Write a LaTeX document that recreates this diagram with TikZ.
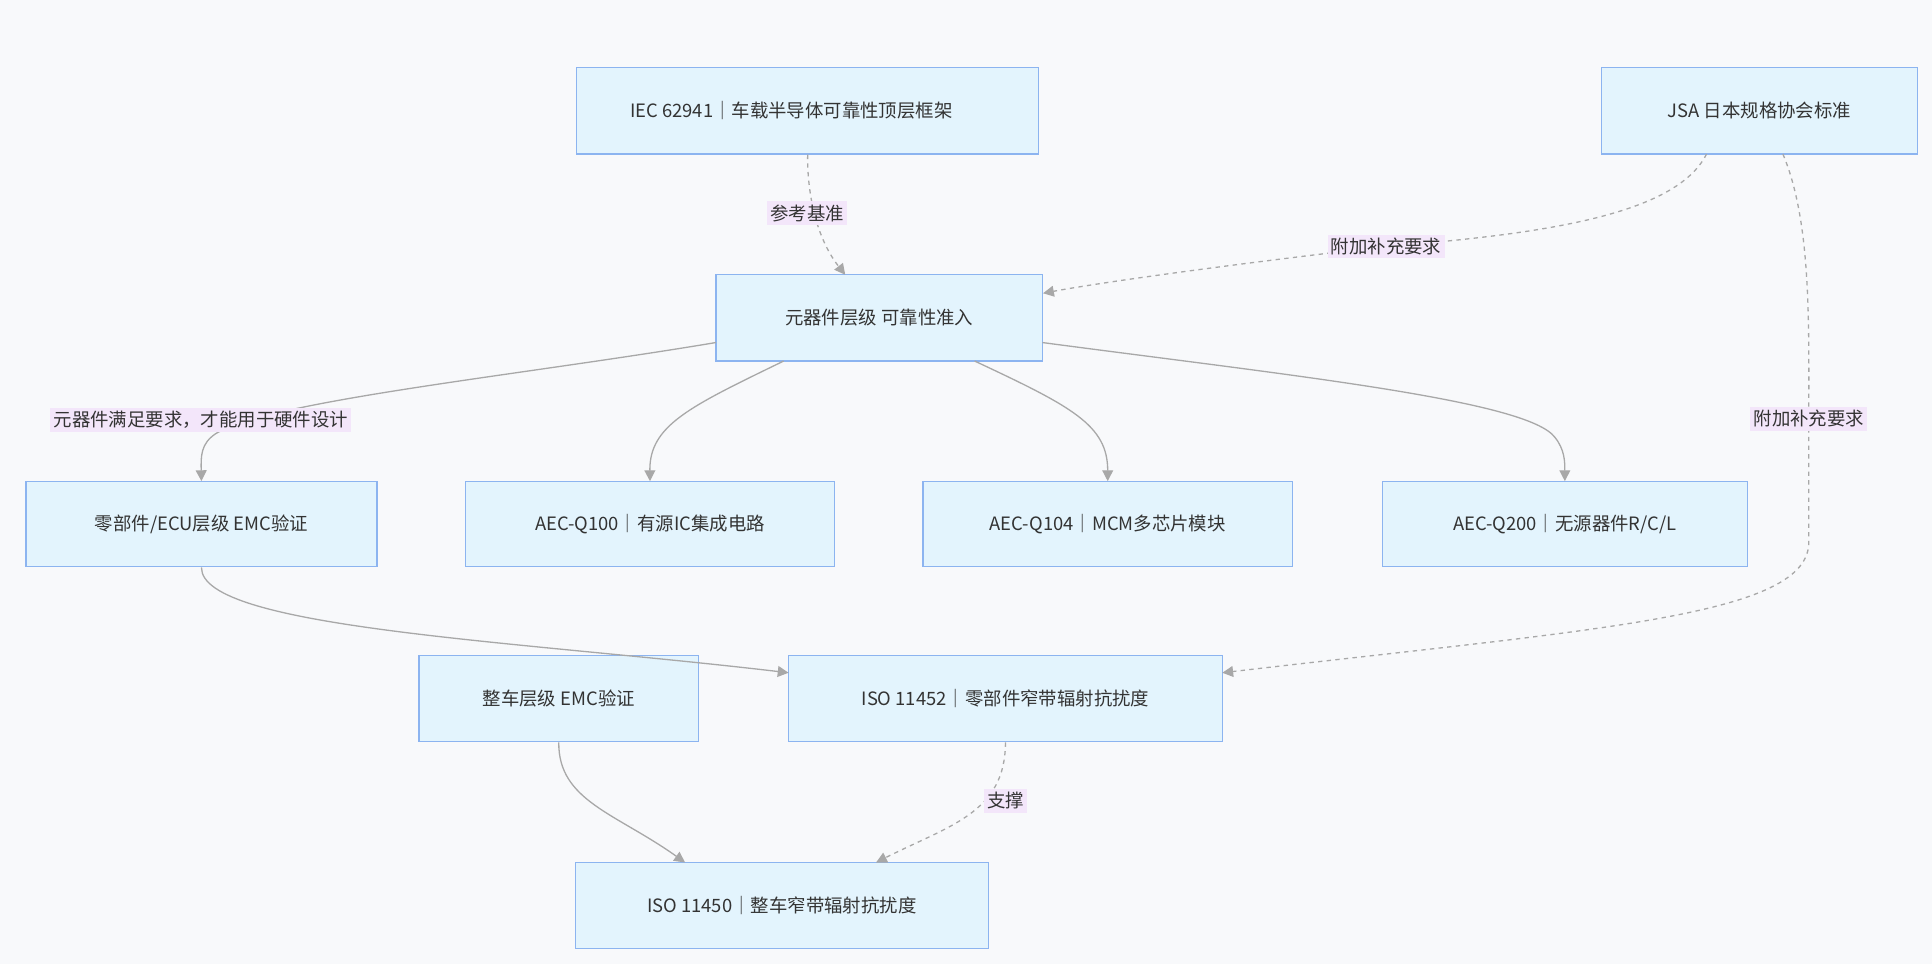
\documentclass[tikz,border=0pt]{standalone}
\usepackage{fontspec}
\setmainfont{Noto Sans CJK SC}
\usetikzlibrary{arrows.meta}
\definecolor{bg}{HTML}{F8F9FB}
\definecolor{nfill}{HTML}{E3F4FD}
\definecolor{ndraw}{HTML}{8CB4F0}
\definecolor{edge}{HTML}{A8A8A8}
\definecolor{lbg}{HTML}{F3E6FA}
\definecolor{txt}{HTML}{333333}
\begin{document}
\begin{tikzpicture}[x=0.02cm,y=-0.02cm,
  box/.style={draw=ndraw,fill=nfill,line width=0.6pt,inner sep=0,text=txt,font=\fontsize{8.5pt}{10pt}\selectfont},
  lbl/.style={fill=lbg,inner sep=1.5pt,text=txt,font=\fontsize{8.5pt}{10pt}\selectfont},
  arr/.style={draw=edge,line width=0.6pt,-{Triangle[length=5pt,width=5pt,fill=edge]}},
  dsh/.style={arr,dashed,dash pattern=on 2pt off 2pt}]
\fill[bg] (0,0) rectangle (1568,782);
\useasboundingbox (0,0) rectangle (1568,782);
% nodes
\node[box,minimum width=375*0.02cm,minimum height=70*0.02cm] (iec) at (655.5,90) {};
\begin{scope}\clip (468,55) rectangle (803,125);
\node[anchor=west,text=txt,font=\fontsize{8.5pt}{10pt}\selectfont,inner sep=0] (iect) at (511,90) {IEC 62941｜车载半导体可靠性顶层框架};
\end{scope}
\node[box,minimum width=256*0.02cm,minimum height=70*0.02cm] (jsa) at (1428,90) {JSA 日本规格协会标准};
\node[box,minimum width=265*0.02cm,minimum height=70*0.02cm] (comp) at (713.5,258) {元器件层级 可靠性准入};
\node[box,minimum width=285*0.02cm,minimum height=69*0.02cm] (ecu) at (163.5,425.5) {零部件/ECU层级 EMC验证};
\node[box,minimum width=299*0.02cm,minimum height=69*0.02cm] (q100) at (527.5,425.5) {AEC-Q100｜有源IC集成电路};
\node[box,minimum width=300*0.02cm,minimum height=69*0.02cm] (q104) at (899,425.5) {AEC-Q104｜MCM多芯片模块};
\node[box,minimum width=296*0.02cm,minimum height=69*0.02cm] (q200) at (1270,425.5) {AEC-Q200｜无源器件R/C/L};
\node[box,minimum width=227*0.02cm,minimum height=70*0.02cm] (veh) at (453.5,567) {整车层级 EMC验证};
\node[box,minimum width=352*0.02cm,minimum height=70*0.02cm] (i52) at (816,567) {ISO 11452｜零部件窄带辐射抗扰度};
\node[box,minimum width=335*0.02cm,minimum height=70*0.02cm] (i50) at (634.5,735) {ISO 11450｜整车窄带辐射抗扰度};
% edges
\draw[dsh] (iec.south) .. controls (655,150) and (660,190) .. (686,223);
\node[lbl] (l1) at (655,173) {参考基准};
\draw[dsh] (1385,125) .. controls (1360,175) and (1250,190) .. (1125,200) .. controls (1020,212) and (900,228) .. (comp.east|-0,238);
\node[lbl] (l2) at (1125,200) {附加补充要求};
\draw[dsh] (1447,125) .. controls (1470,180) and (1468,260) .. (1468,340) -- (1468,440) .. controls (1468,500) and (1300,510) .. (992,546);
\node[lbl] (l3) at (1468,340) {附加补充要求};
\draw[arr] (581,278) .. controls (420,305) and (220,325) .. (175,352) .. controls (163,360) and (163,370) .. (ecu.north);
\node[lbl] (l4) at (163,341) {元器件满足要求，才能用于硬件设计};
\draw[arr] (636,293) .. controls (560,330) and (527,345) .. (q100.north);
\draw[arr] (791,293) .. controls (870,330) and (899,345) .. (q104.north);
\draw[arr] (846,278) .. controls (1050,305) and (1240,325) .. (1262,355) .. controls (1270,365) and (1270,375) .. (q200.north);
\draw[arr] (ecu.south) .. controls (163,510) and (420,520) .. (640,546);
\draw[arr] (veh.south) .. controls (453,650) and (500,660) .. (556,700);
\draw[dsh] (i52.south) .. controls (816,660) and (770,670) .. (711,700);
\node[lbl] (l5) at (816,650) {支撑};
\end{tikzpicture}
\end{document}
